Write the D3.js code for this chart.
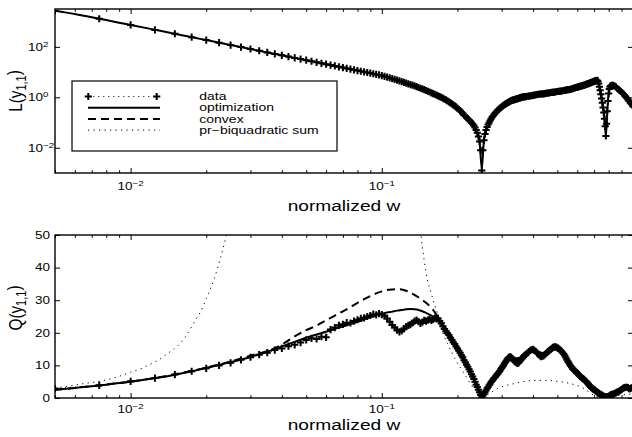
<!DOCTYPE html>
<html><head><meta charset="utf-8">
<script src="https://cdn.jsdelivr.net/npm/d3@7"></script>
<style>
body{margin:0;background:#fff}
svg{display:block}
text{font-family:"Liberation Sans",Arial,Helvetica,sans-serif;fill:#000}
</style></head><body>
<svg id="fig" width="632" height="437"></svg>
<script>
// ---- measured response: frequency bins (normalized w = bin / 400) ----
const bins = [
  2,3,4,5,6,7,8,9,10,11,12,13,14,15,16,17,18,19,20,21,22,23,24,25,26,27,28,29,30,31,32,33,34,35,36,37,38,39,40,
  41,42,43,44,45,46,47,48,49,50,51,52,53,54,55,56,57,58,59,60,61,62,63,64,65,66,67,68,69,70,
  71,72,73,74,75,76,77,78,79,80,81,82,83,84,85,86,87,88,89,90,91,92,93,94,95,96,97,98,99,100,
  101,102,103,104,105,106,107,108,109,110,111,112,113,114,115,116,117,118,119,120,121,122,123,124,125,
  126,127,128,129,130,131,132,133,134,135,136,137,138,139,140,141,142,143,144,145,146,147,148,149,150,
  152,154,156,158,160,162,164,166,168,170,172,174,176,178,180,182,184,186,188,190,192,194,196,198,200,
  202,204,206,208,210,212,214,216,218,220,222,224,226,228,230,232,234,236,238,240,242,244,246,248,250,
  252,254,256,258,260,262,264,266,268,270,272,274,276,278,280,282,284,286,288,290,292,294,296,298,300,
  302,304,306,308,310,312,314,316,318,320,322,324,326,328,330,
  334,338,342,346,350,354,358,362,366,370,374,378,382,386,390,394,398,400
];
const binsPerUnit = 400;

// L(y_{1,1}) of the data, one value per bin
const lData = [
  2700,1300,740,470,330,242,185,146,118,98,82,70,60,52.5,46,41,36.5,32.7,29.5,26.8,24.4,22.3,20.5,18.9,17.5,16.2,15.1,14.0,13.1,12.3,11.5,10.8,10.2,9.6,9.1,8.6,8.1,7.7,7.3,
  6.76,6.31,5.89,5.50,5.13,4.79,4.47,4.17,3.89,3.63,3.39,3.16,3.02,2.82,2.63,2.45,2.29,2.14,2.00,1.86,1.74,1.62,1.51,1.41,1.32,1.23,1.15,1.07,1.00,0.933,
  0.851,0.794,0.724,0.661,0.603,0.550,0.501,0.457,0.417,0.372,0.331,0.295,0.263,0.229,0.200,0.178,0.158,0.141,0.126,0.112,0.100,0.0871,0.0759,0.0631,0.0501,0.0398,0.0282,0.0178,0.00794,0.00126,
  0.0079,0.0200,0.0355,0.0501,0.0661,0.0832,0.100,0.120,0.141,0.166,0.186,0.209,0.234,0.257,0.282,0.309,0.339,0.363,0.389,0.417,0.447,0.479,0.507,0.537,0.562,
  0.589,0.617,0.646,0.676,0.708,0.733,0.759,0.776,0.794,0.813,0.832,0.851,0.871,0.891,0.912,0.933,0.955,0.977,1.00,1.01,1.02,1.04,1.05,1.06,1.07,
  1.10,1.12,1.15,1.17,1.20,1.23,1.26,1.29,1.32,1.34,1.35,1.37,1.38,1.41,1.45,1.46,1.48,1.51,1.55,1.56,1.58,1.60,1.62,1.66,1.70,
  1.72,1.74,1.76,1.78,1.82,1.86,1.88,1.91,1.95,2.00,2.02,2.04,2.09,2.14,2.21,2.29,2.34,2.40,2.45,2.51,2.57,2.63,2.69,2.75,2.81,
  2.88,2.95,3.02,3.13,3.24,3.31,3.39,3.51,3.63,3.71,3.80,3.93,4.07,4.17,4.27,4.42,4.57,4.64,4.68,4.37,3.55,2.63,1.91,1.32,0.891,
  0.603,0.398,0.251,0.141,0.0708,0.0295,0.0891,0.282,0.708,1.41,2.14,2.63,2.82,2.92,2.95,
  2.95,2.75,2.57,2.29,2.09,1.86,1.70,1.51,1.35,1.20,1.07,0.933,0.813,0.708,0.603,0.537,0.479,0.447
];

// Q(y_{1,1}) of the data, one value per bin
const qData = [
  2.9,3.9,5.1,6.1,7.2,8.2,9.1,10.0,10.8,11.7,12.5,13.3,13.9,14.7,15.2,15.9,16.3,17.0,17.8,18.3,18.1,18.8,18.6,21.0,21.6,22.3,22.6,23.1,23.0,23.6,24.0,24.4,24.6,25.0,25.3,25.7,25.5,25.9,25.6,
  25.2,24.4,23.4,22.4,21.6,20.8,20.3,20.6,21.2,21.9,22.3,22.5,23.0,23.6,23.9,23.4,22.9,23.3,23.8,23.6,23.9,24.2,23.8,24.1,24.5,24.3,24.4,23.6,22.9,22.0,
  21.2,20.5,19.9,19.3,18.5,17.9,17.1,16.6,15.8,15.2,14.5,13.9,13.1,12.5,11.6,11.0,10.2,9.6,8.8,8.1,7.3,6.6,5.8,5.0,4.1,3.4,2.5,1.8,0.9,0.2,
  0.7,1.2,1.8,2.3,2.9,3.4,3.9,4.4,4.9,5.3,5.7,6.1,6.4,6.8,7.2,7.5,7.9,8.3,8.8,9.2,9.6,10.0,10.5,10.9,11.3,
  11.7,12.1,12.4,12.6,12.6,12.4,12.2,11.9,11.6,11.3,11.1,10.9,10.7,10.7,10.8,11.1,11.4,11.7,12.0,12.3,12.5,12.8,13.0,13.2,13.4,
  13.8,14.2,14.6,14.8,14.9,14.6,14.3,13.8,13.4,13.0,12.7,12.8,12.9,13.2,13.6,14.0,14.3,14.6,14.9,15.2,15.5,15.6,15.7,15.6,15.4,
  15.2,14.9,14.6,14.3,13.9,13.5,13.0,12.4,11.8,11.3,10.8,10.3,9.8,9.4,9.0,8.7,8.4,8.2,7.9,7.6,7.3,7.0,6.7,6.5,6.2,
  6.0,5.8,5.6,5.3,5.1,4.8,4.5,4.2,3.9,3.6,3.3,3.1,2.9,2.7,2.6,2.4,2.2,2.0,1.8,1.6,1.5,1.3,1.2,1.0,0.9,
  0.8,0.6,0.5,0.4,0.35,0.3,0.3,0.3,0.4,0.5,0.6,0.8,0.9,1.0,1.1,
  1.2,1.4,1.6,1.8,2.0,2.2,2.5,2.7,3.0,3.2,3.3,3.3,3.2,2.9,2.9,3.1,3.1,3.0
];

// ---- fitted models ----
const lFitW = [0.005,0.006,0.007,0.008,0.009,0.01,0.012,0.014,0.016,0.018,0.02,0.025,0.03,0.035,0.04,0.045,0.05,
  0.055,0.06,0.065,0.07,0.075,0.08,0.085,0.09,0.095,0.1,0.105,0.11,0.115,0.12,0.125,0.13,0.135,0.14,0.145,0.15,
  0.155,0.16,0.165,0.17,0.175,0.18,0.19,0.2,0.21,0.22,0.23,0.24,0.245,0.25,0.255,0.26,0.27,0.29,0.31,0.33,0.36,
  0.4,0.45,0.5,0.55,0.6,0.65,0.7,0.72,0.725,0.735,0.745,0.76,0.77,0.78,0.79,0.8,0.81,0.83,0.88,0.94,1.0];
const lOpt = [2700,2000,1500,1150,910,740,515,378,289,228,185,118,82,60,46,36.5,29.5,
  24.4,20.5,17.5,15.1,13.1,11.5,10.2,9.1,8.1,7.3,6.31,5.50,4.79,4.17,3.63,3.16,2.82,2.45,2.14,1.86,
  1.62,1.41,1.23,1.07,0.933,0.794,0.550,0.372,0.229,0.141,0.0871,0.0398,0.0178,0.0015,0.0200,0.0501,0.120,0.309,0.537,0.759,1.00,
  1.20,1.45,1.70,2.00,2.51,3.24,4.27,4.68,4.37,2.63,1.32,0.398,0.141,0.0295,0.282,1.41,2.63,2.95,1.95,0.97,0.447];

const fitW = [0.005,0.006,0.007,0.008,0.009,0.01,0.012,0.014,0.016,0.018,0.02,0.025,0.03,0.035,0.04,0.045,0.05,
  0.055,0.06,0.065,0.07,0.075,0.08,0.085,0.09,0.095,0.1,0.105,0.11,0.115,0.12,0.125,0.13,0.135,0.14,0.145,0.15,
  0.155,0.16,0.165,0.17,0.175,0.18,0.19,0.2,0.21,0.22,0.23,0.24,0.25,0.27,0.29,0.31,0.33,0.36,
  0.4,0.45,0.5,0.55,0.6,0.65,0.7,0.75,0.78,0.82,0.88,0.94,1.0];
const qOpt = [2.5,3.1,3.6,4.1,4.6,5.0,5.9,6.7,7.6,8.4,9.2,11.0,12.6,14.2,15.8,17.2,18.5,
  19.5,20.3,21.2,22.0,22.7,23.4,24.1,24.8,25.4,25.8,26.2,26.5,26.8,27.0,27.2,27.3,27.2,27.0,26.6,26.1,
  25.6,25.0,24.3,23.5,22.5,21.1,18.3,15.3,12.4,9.6,6.6,3.5,0.3,4.2,7.4,10.6,12.2,12.2,
  14.6,13.5,15.3,11.3,7.6,5.1,2.4,0.7,0.3,0.9,2.0,3.2,3.0];
const qConvex = [2.5,3.1,3.6,4.1,4.6,5.0,5.9,6.8,7.7,8.5,9.3,11.2,13.0,14.4,16.4,18.9,20.8,
  22.2,23.8,25.3,26.6,27.9,29.2,30.3,31.3,32.1,32.7,33.1,33.3,33.4,33.3,32.9,32.3,31.6,30.9,30.1,29.2,
  28.2,27.0,25.5,23.8,22.3,21.0,18.3,15.3,12.4,9.6,6.6,3.5,0.3,4.2,7.4,10.6,12.2,12.2,
  14.6,13.5,15.3,11.3,7.6,5.1,2.4,0.7,0.3,0.9,2.0,3.2,3.0];

const prW = [0.005,0.0056,0.0065,0.0076,0.0088,0.01,0.011,0.012,0.013,0.014,0.0155,0.0168,
  0.018,0.019,0.02,0.0215,0.0228,0.024,0.0255,0.03,0.05,0.08,0.11,0.13,
  0.138,0.143,0.1474,0.152,0.1567,0.1616,0.1667,0.1718,0.1827,0.197,0.2128,0.2298,
  0.248,0.252,0.26,0.2887,0.3358,0.37,0.4166,0.46,0.5016,0.5658,0.6385,0.7,0.74,0.78,0.85,0.92,1.0];
const qPr = [3.1,3.6,4.4,5.2,6.4,7.9,9.0,10.4,11.8,13.6,16.2,19.6,
  23.5,26.5,30.5,36.5,43,49.5,58,90,300,600,250,95,
  64,50.5,42.3,36.2,32.6,29,25.9,21.8,16.7,11.6,7.5,3.4,
  0.8,0.1,0.7,2.9,4.4,5.1,5.4,5.35,5.1,4.4,2.9,0.8,0.1,0.05,0.6,1.0,1.3];

// ---- axes and labels ----
const xTicks = [0.01, 0.1];
const lTicks = [1e-2, 1, 1e2];
const qTicks = [0, 10, 20, 30, 40, 50];
const xTitle = "normalized w";
const legendLabels = ["data", "optimization", "convex", "pr\u2212biquadratic sum"];

// ---------------------------------------------------------------
const SX = 1.25;               // horizontal text stretch of the figure fonts
const svg = d3.select("#fig");
const X0 = 55, X1 = 633;
const pTop = {y0: 9, y1: 173}, pBot = {y0: 235, y1: 398};

const x = d3.scaleLog().domain([0.005, 1]).range([X0, X1]);
const yL = d3.scaleLog().domain([1e-3, Math.pow(10, 3.5)]).range([pTop.y1, pTop.y0]);
const yQ = d3.scaleLinear().domain([0, 50]).range([pBot.y1, pBot.y0]);

const wData = bins.map(k => k / binsPerUnit);
const xMinor = x.ticks().filter(v => !xTicks.includes(v) && Math.abs(v - 1) > 1e-9);

const defs = svg.append("defs");
[["clipTop", pTop], ["clipBot", pBot]].forEach(([id, p]) => {
  defs.append("clipPath").attr("id", id).append("rect")
    .attr("x", X0).attr("y", p.y0).attr("width", X1 - X0).attr("height", p.y1 - p.y0);
});

function label(g, px, py, anchor, size, parts, rot, sx) {
  const t = g.append("text")
    .attr("transform", `translate(${px},${py}) scale(${sx || SX},1)` + (rot ? " rotate(-90)" : ""))
    .attr("text-anchor", anchor)
    .style("font-size", size + "px");
  parts.forEach(p => {
    const s = t.append("tspan").text(p.t);
    if (p.sup) s.attr("dy", "-0.5em").style("font-size", "0.72em");
    if (p.sub) s.attr("dy", "0.32em").style("font-size", "0.72em");
    if (p.back) s.attr("dy", p.back);
  });
  return t;
}

function sciParts(v) {
  const e = Math.round(Math.log10(v));
  return [{t: "10"}, {t: (e < 0 ? "\u2212" : "") + Math.abs(e), sup: true}];
}

function tickLines(g, axisFn, scale, values, size) {
  g.call(axisFn(scale).tickValues(values).tickSize(-size).tickFormat(""))
    .call(s => s.select(".domain").remove())
    .call(s => s.selectAll("text").remove())
    .call(s => s.selectAll("line").attr("stroke", "#000").attr("stroke-width", 1));
}

function frame(p, yScale, yTickVals) {
  const g = svg.append("g");
  tickLines(g.append("g").attr("transform", `translate(0,${p.y1})`), d3.axisBottom, x, xTicks, 5);
  tickLines(g.append("g").attr("transform", `translate(0,${p.y1})`), d3.axisBottom, x, xMinor, 2.8);
  tickLines(g.append("g").attr("transform", `translate(0,${p.y0})`), d3.axisTop, x, xTicks, 5);
  tickLines(g.append("g").attr("transform", `translate(0,${p.y0})`), d3.axisTop, x, xMinor, 2.8);
  tickLines(g.append("g").attr("transform", `translate(${X0},0)`), d3.axisLeft, yScale, yTickVals, 5);
  tickLines(g.append("g").attr("transform", `translate(${X1},0)`), d3.axisRight, yScale, yTickVals, 5);
  g.append("rect").attr("x", X0).attr("y", p.y0).attr("width", X1 - X0).attr("height", p.y1 - p.y0)
    .attr("fill", "none").attr("stroke", "#000").attr("stroke-width", 1.4);
  return g;
}

const plus = "M-3.6,0H3.6M0,-3.6V3.6";

function drawData(g, yScale, vals) {
  const pts = wData.map((w, i) => [x(w), yScale(vals[i])]);
  g.append("path").attr("d", d3.line()(pts)).attr("fill", "none")
    .attr("stroke", "#000").attr("stroke-width", 1).attr("stroke-dasharray", "1,4");
  g.selectAll(null).data(pts).join("path")
    .attr("transform", d => `translate(${d[0]},${d[1]})`)
    .attr("d", plus).attr("stroke", "#000").attr("stroke-width", 2).attr("fill", "none");
}

function drawModel(g, ws, vals, yScale, style) {
  const line = d3.line().x((d, i) => x(ws[i])).y(d => yScale(d)).curve(d3.curveMonotoneX);
  g.append("path").attr("d", line(vals)).attr("fill", "none")
    .attr("stroke", "#000").attr("stroke-width", style.w)
    .attr("stroke-dasharray", style.dash || null);
}

const solid = {w: 2}, dashed = {w: 2, dash: "8,5"}, dotted = {w: 1, dash: "1.2,4.3"};

// ---- top panel: L(y_{1,1}) ----
const gTop = svg.append("g").attr("clip-path", "url(#clipTop)");
drawData(gTop, yL, lData);
drawModel(gTop, lFitW, lOpt, yL, solid);
frame(pTop, yL, lTicks);

// ---- bottom panel: Q(y_{1,1}) ----
const gBot = svg.append("g").attr("clip-path", "url(#clipBot)");
drawData(gBot, yQ, qData);
drawModel(gBot, fitW, qOpt, yQ, solid);
drawModel(gBot, fitW, qConvex, yQ, dashed);
drawModel(gBot, prW, qPr, yQ, dotted);
frame(pBot, yQ, qTicks);

// ---- tick labels and titles ----
const gl = svg.append("g");
xTicks.forEach(v => {
  label(gl, x(v), pTop.y1 + 17, "middle", 10.8, sciParts(v));
  label(gl, x(v), pBot.y1 + 15, "middle", 10.8, sciParts(v));
});
lTicks.forEach(v => label(gl, 28, yL(v) + 4, "start", 10.8, sciParts(v)));
qTicks.forEach(v => label(gl, 50, yQ(v) + 3.8, "end", 10.8, [{t: String(v)}]));

label(gl, (X0 + X1) / 2, 211, "middle", 15.3, [{t: xTitle}]);
label(gl, (X0 + X1) / 2, 430, "middle", 15.3, [{t: xTitle}]);
label(gl, 22, (pTop.y0 + pTop.y1) / 2, "middle", 15.3,
  [{t: "L(y"}, {t: "1,1", sub: true}, {t: ")", back: "-0.32em"}], true);
label(gl, 22, 308, "middle", 15.3,
  [{t: "Q(y"}, {t: "1,1", sub: true}, {t: ")", back: "-0.32em"}], true);

// ---- legend ----
const lg = svg.append("g");
lg.append("rect").attr("x", 72).attr("y", 81).attr("width", 265).attr("height", 70)
  .attr("fill", "#fff").attr("stroke", "#000").attr("stroke-width", 1.2);
const rows = [96.5, 107.7, 118.9, 130.1];
const styles = [{w: 1, dash: "1,4"}, solid, dashed, dotted];
legendLabels.forEach((name, i) => {
  const y = rows[i];
  const x0 = i === 0 ? 88.3 : 88, x1 = i === 0 ? 156.7 : 160;
  lg.append("line").attr("x1", x0).attr("x2", x1).attr("y1", y).attr("y2", y)
    .attr("stroke", "#000").attr("stroke-width", styles[i].w)
    .attr("stroke-dasharray", styles[i].dash || null);
  if (i === 0) {
    [x0, x1].forEach(px => lg.append("path").attr("d", plus)
      .attr("transform", `translate(${px},${y})`).attr("stroke", "#000").attr("stroke-width", 2));
  }
  label(lg, 199.3, y + 3.6, "start", 10, [{t: name}], false, 1.4);
});
</script>
</body></html>
